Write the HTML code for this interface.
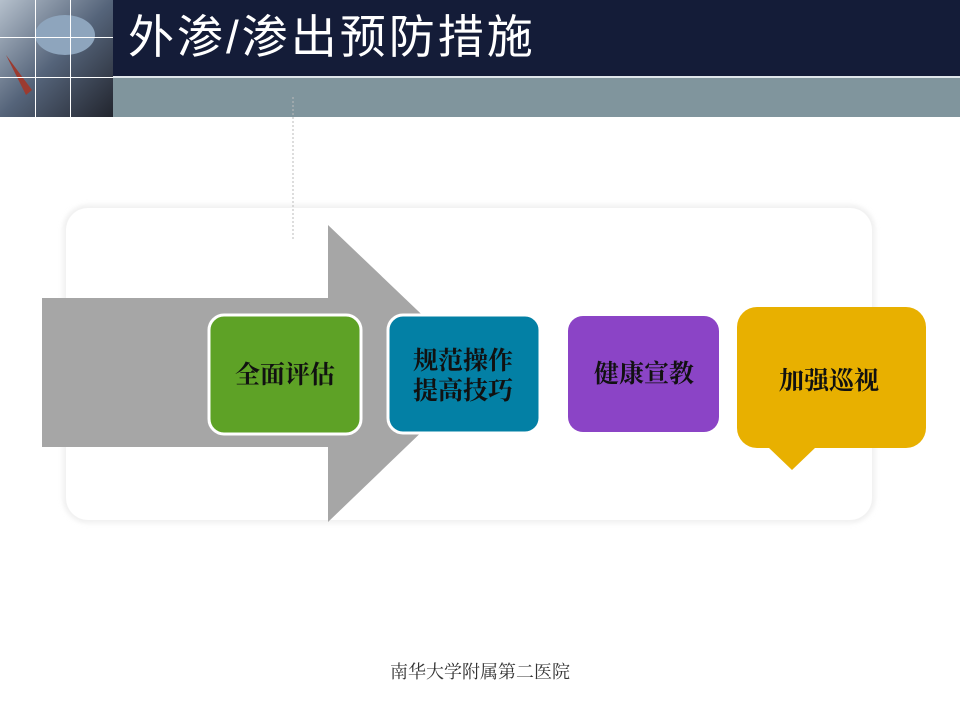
<!DOCTYPE html>
<html><head><meta charset="utf-8"><style>
body{margin:0;width:960px;height:720px;overflow:hidden;background:#fff;font-family:"Liberation Serif","Noto Serif CJK SC",serif}
</style></head><body>
<svg width="960" height="720" viewBox="0 0 960 720" xmlns="http://www.w3.org/2000/svg">
<defs>
<linearGradient id="ph" x1="0" y1="0" x2="1" y2="1">
<stop offset="0" stop-color="#b5c0cc"/><stop offset="0.5" stop-color="#55647a"/><stop offset="1" stop-color="#22252e"/>
</linearGradient>
<filter id="sh" x="-5%" y="-5%" width="110%" height="110%"><feGaussianBlur stdDeviation="3"/></filter>
</defs>
<rect x="0" y="0" width="960" height="76" fill="#141c38"/>
<rect x="0" y="76" width="960" height="2" fill="#dfe6ea"/>
<rect x="0" y="78" width="960" height="39" fill="#80959d"/>
<rect x="0" y="0" width="113" height="117" fill="url(#ph)"/>
<ellipse cx="65" cy="35" rx="30" ry="20" fill="#8ea5bd"/>
<polygon points="6,55 32,90 26,95" fill="#9b3b30"/>
<rect x="0" y="37" width="113" height="1" fill="#fff"/>
<rect x="0" y="77" width="113" height="1" fill="#fff"/>
<rect x="35" y="0" width="1" height="117" fill="#fff"/>
<rect x="70" y="0" width="1" height="117" fill="#fff"/>
<text x="128" y="53" font-size="46" letter-spacing="3" fill="#fff" font-family="'Liberation Sans','Noto Sans CJK SC',sans-serif">外渗/渗出预防措施</text>
<rect x="66" y="208" width="806" height="312" rx="22" fill="#fff" stroke="#ddd" stroke-width="3" filter="url(#sh)"/>
<rect x="66" y="208" width="806" height="312" rx="22" fill="#fff"/>
<line x1="293" y1="97" x2="293" y2="240" stroke="#bbb" stroke-dasharray="2,2"/>
<polygon points="42,298 328,298 328,225 483,373 328,522 328,447 42,447" fill="#a6a6a6"/>
<g font-weight="bold" font-size="25" text-anchor="middle" fill="#111">
<rect x="209" y="315" width="152" height="119" rx="15" fill="#5ea226" stroke="#fff" stroke-width="3"/>
<text x="285" y="383">全面评估</text>
<rect x="388" y="315" width="152" height="118" rx="15" fill="#0380a5" stroke="#fff" stroke-width="3"/>
<text x="463" y="369">规范操作</text>
<text x="463" y="399">提高技巧</text>
<rect x="568" y="316" width="151" height="116" rx="15" fill="#8b44c6"/>
<text x="644" y="382">健康宣教</text>
<rect x="737" y="307" width="189" height="141" rx="20" fill="#e8b000"/>
<polygon points="768,447 816,447 792,470" fill="#e8b000"/>
<text x="829" y="389">加强巡视</text>
</g>
<text x="480" y="678" font-size="18" text-anchor="middle" fill="#333">南华大学附属第二医院</text>
</svg>
</body></html>
